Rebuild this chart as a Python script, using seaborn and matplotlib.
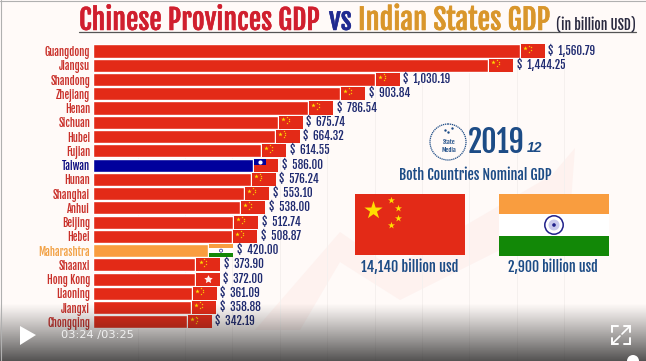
import matplotlib
matplotlib.use("Agg")
import matplotlib.pyplot as plt
import matplotlib.font_manager as fm
import matplotlib.patheffects as pe
from matplotlib.patches import Rectangle, Polygon, Circle
import numpy as np
import pandas as pd
import seaborn as sns

names = ["Guangdong", "Jiangsu", "Shandong", "Zhejiang", "Henan", "Sichuan", "Hubei", "Fujian",
         "Taiwan", "Hunan", "Shanghai", "Anhui", "Beijing", "Hebei", "Maharashtra", "Shaanxi",
         "Hong Kong", "Liaoning", "Jiangxi", "Chongqing"]
gdp = [1560.79, 1444.25, 1030.19, 903.84, 786.54, 675.74, 664.32, 614.55, 586.00, 576.24,
       553.10, 538.00, 512.74, 508.87, 420.00, 373.90, 372.00, 361.09, 358.88, 342.19]
flags = ["cn"] * 8 + ["tw"] + ["cn"] * 5 + ["in", "cn", "hk", "cn", "cn", "cn"]
grid_values = [163, 337, 510, 684, 857, 1031, 1205, 1376, 1550, 1722]

RED = "#E32A17"
BLUE = "#00009C"
ORANGE = "#F99D3F"
GREEN = "#128807"
NAVY = "#1F2A70"
TEAL = "#1D4C86"
bar_colors = {n: RED for n in names}
bar_colors["Taiwan"] = BLUE
bar_colors["Maharashtra"] = ORANGE
label_colors = {n: "#C9302A" for n in names}
label_colors["Taiwan"] = "#0B0B80"
label_colors["Maharashtra"] = "#F2A144"

sns.set_style("white")
# condensed face if the machine has it, else shrink so the layout still holds
have_narrow = "Fjalla One" in {f.name for f in fm.fontManager.ttflist}
fs_k = 1.0 if have_narrow else 0.72
plt.rcParams["font.family"] = ["Fjalla One", "Liberation Sans", "DejaVu Sans"]
plt.rcParams["font.weight"] = "normal"
BG = "#FFFAF8"
W, H = 646, 361
fig = plt.figure(figsize=(W / 100, H / 100), dpi=100, facecolor=BG)

# page layer, pixel coords
bg = fig.add_axes([0, 0, 1, 1], zorder=0)
bg.set_xlim(0, W)
bg.set_ylim(H, 0)
bg.axis("off")
bg.add_patch(Polygon([(255, 330), (340, 232), (392, 268), (552, 175), (575, 148), (570, 215),
                      (400, 300), (340, 262), (300, 330)], fc="#FEF2EF", ec="none"))

# chart layer
x0, scale = 93, 0.2734
step = 14.26
ax = fig.add_axes([x0 / W, 0, 1 - x0 / W, 1 - 44 / H], zorder=1)
ax.patch.set_alpha(0)
df = pd.DataFrame({"name": names, "gdp": gdp})
sns.barplot(data=df, y="name", x="gdp", hue="name", palette=bar_colors, dodge=False,
            legend=False, width=0.92, saturation=1, ax=ax)
ax.set_xlim(0, (W - x0) / scale)
ax.set_ylim((H - 51) / step, -7 / step)
for g in grid_values:
    ax.axvline(g, color="#F5F0EE", lw=0.7, zorder=0)
ax.set_xlabel("")
ax.set_ylabel("")
ax.set_xticks([])
ax.tick_params(axis="y", length=0, pad=2)
ax.set_yticks(range(len(names)))
ax.set_yticklabels(names, fontsize=7.6 * fs_k)
for lab, n in zip(ax.get_yticklabels(), names):
    lab.set_color(label_colors[n])
sns.despine(ax=ax, left=True, bottom=True)

# flag at bar end, sizes in px turned into data units
fw = 24 / scale
gap = 1.2 / scale
fh = 0.92
for i, (v, kind) in enumerate(zip(gdp, flags)):
    fx = v + gap
    top = i - fh / 2
    if kind == "in":
        for j, c in enumerate([ORANGE, "white", GREEN]):
            ax.add_patch(Rectangle((fx, top + j * fh / 3), fw, fh / 3, fc=c, ec="none", zorder=3))
        ax.scatter(fx + fw / 2, i, s=5, fc="none", ec="#20208A", lw=0.5, zorder=4)
    else:
        ax.add_patch(Rectangle((fx, top), fw, fh, fc=RED, ec="none", zorder=3))
        if kind == "cn":
            ax.scatter(fx + fw * 0.17, i - 0.2, marker="*", s=11, c="#FFDE00", lw=0, zorder=4)
            ax.scatter([fx + fw * s for s in (0.33, 0.4, 0.4, 0.33)],
                       [i + s for s in (-0.38, -0.25, -0.08, 0.05)],
                       marker="*", s=2.5, c="#FFDE00", lw=0, zorder=4)
        elif kind == "tw":
            ax.add_patch(Rectangle((fx, top), fw * 0.5, fh * 0.5, fc=BLUE, ec="none", zorder=4))
            ax.scatter(fx + fw * 0.25, i - fh / 4, s=9, c="white", lw=0, zorder=5)
        else:
            ax.scatter(fx + fw / 2, i, marker=(5, 1), s=40, c="#FFF2EE", lw=0, zorder=4)
    ax.text(fx + fw + 3.5 / scale, i, f"$  {v:,.2f}", va="center", ha="left", fontsize=8 * fs_k,
            color=NAVY, zorder=5)

# overlay: titles, side panel, video controls
ov = fig.add_axes([0, 0, 1, 1], zorder=2)
ov.set_xlim(0, W)
ov.set_ylim(H, 0)
ov.axis("off")
ov.patch.set_alpha(0)
ov.plot([79, 636], [32, 32], color="#555555", lw=0.9)
titles = []
for x, txt, c, fs in [(79, "Chinese Provinces GDP", "#D01F2E", 20), (329, "vs", "#1F2A90", 20),
                      (358, "Indian States GDP", "#D9962B", 20.5)]:
    titles.append(ov.text(x, 30, txt, color=c, fontsize=fs * fs_k, ha="left", va="baseline"))
ov.text(556, 30, "(in billion USD)", color="#2A2A40", fontsize=9.8 * fs_k, ha="left", va="baseline")

ov.add_patch(Circle((448, 142), 18, fc="none", ec=TEAL, lw=0.9, ls=(0, (1, 0.6))))
ov.text(449, 146, "State\nMedia", fontsize=4.6 * fs_k, color=TEAL, ha="center", va="center")
ov.scatter([448, 445, 452], [132, 130, 128], s=3, c=TEAL, lw=0)
ov.text(468, 153, "2019", fontsize=21.5 * fs_k, color=TEAL, ha="left", va="baseline")
ov.text(527, 152, "12", fontsize=10, style="italic", fontweight="bold", family="Liberation Sans",
        color=TEAL, ha="left", va="baseline")
ov.text(475, 175, "Both Countries Nominal GDP", fontsize=10.2 * fs_k, color=TEAL, ha="center", va="center")

# big flags
ov.add_patch(Rectangle((355, 194), 110, 61, fc=RED, ec="none"))
ov.scatter(373, 210, marker="*", s=190, c="#FFDE00", lw=0)
ov.scatter([391, 398, 398, 391], [200, 208, 218, 225], marker="*", s=28, c="#FFDE00", lw=0)
ov.add_patch(Rectangle((499, 194), 110, 20, fc=ORANGE, ec="none"))
ov.add_patch(Rectangle((499, 214), 110, 22, fc="white", ec="none"))
ov.add_patch(Rectangle((499, 236), 110, 20, fc=GREEN, ec="none"))
ov.add_patch(Circle((554, 225), 9.2, fc="white", ec="#20208A", lw=1.1))
ov.add_patch(Circle((554, 225), 5.5, fc="#C9C9EC", ec="none"))
ov.add_patch(Circle((554, 225), 1.8, fc="#20208A", ec="none"))
ov.text(410, 267, "14,140 billion usd", fontsize=10.3 * fs_k, color=TEAL, ha="center", va="center")
ov.text(553, 267, "2,900 billion usd", fontsize=10 * fs_k, color=TEAL, ha="center", va="center")

# only the big title gets fattened, the source lettering is heavier there
for t in titles:
    t.set_path_effects([pe.withStroke(linewidth=0.35, foreground=t.get_color())])

# video player shade and buttons
shade = np.zeros((100, 2, 4))
shade[..., :3] = 0.12
shade[..., 3] = np.linspace(0, 0.78, 100)[:, None] ** 1.1
ov.imshow(shade, extent=(0, W, H, 303), aspect="auto", zorder=5)
ov.set_xlim(0, W)
ov.set_ylim(H, 0)
ov.add_patch(Polygon([(20, 326), (20, 345), (36, 335)], fc="white", ec="none", zorder=6))
ov.text(61, 335, "03:24 /03:25", fontsize=8.2, color="#F0F0F0", family="DejaVu Sans", va="center", ha="left", zorder=6)
for a, b, c in [((612, 332), (612, 326), (618, 326)), ((624, 326), (630, 326), (630, 332)),
                ((612, 338), (612, 344), (618, 344)), ((624, 344), (630, 344), (630, 338))]:
    ov.plot(*zip(a, b, c), color="white", lw=1.4, solid_joinstyle="miter", zorder=6)
ov.plot([622, 629], [334, 327], color="white", lw=1.2, zorder=6)
ov.plot([613, 620], [343, 336], color="white", lw=1.2, zorder=6)
ov.add_patch(Circle((633, 361), 6, fc="white", ec="none", zorder=6))
# thin grey frame of the capture
ov.plot([0.5, 0.5], [0, H], color="#B0B0B0", lw=0.8, zorder=6)
ov.plot([0, W], [0.5, 0.5], color="#B0B0B0", lw=0.8, zorder=6)

fig.savefig("out.png", dpi=100, facecolor=BG)
